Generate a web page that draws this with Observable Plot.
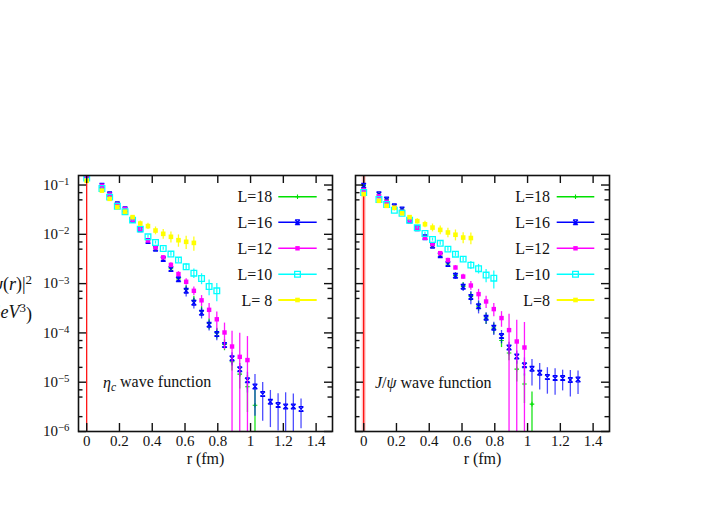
<!DOCTYPE html>
<html><head><meta charset="utf-8">
<script src="https://cdn.jsdelivr.net/npm/d3@7"></script>
<script src="https://cdn.jsdelivr.net/npm/@observablehq/plot@0.6"></script>
<style>
body{margin:0;background:#fff;}
#wrap{position:relative;width:704px;height:522px;overflow:hidden;background:#fff;}
#wrap svg{position:absolute;top:0;}
</style></head>
<body><div id="wrap"></div>
<script>
// r values (fm) of the plotted points
const R = [0, 0.093, 0.140, 0.187, 0.234, 0.280, 0.327, 0.374, 0.420, 0.467, 0.514, 0.560, 0.607, 0.654,
  0.701, 0.747, 0.794, 0.841, 0.887, 0.934, 0.981, 1.027, 1.074, 1.121, 1.168, 1.214, 1.261, 1.308];

const xTicks = [0, 0.2, 0.4, 0.6, 0.8, 1, 1.2, 1.4];
const yTicks = [1e-6, 1e-5, 1e-4, 1e-3, 1e-2, 1e-1];
const yMinorLeft = [2e-6,5e-6,7e-6,2e-5,5e-5,7e-5,2e-4,5e-4,7e-4,2e-3,5e-3,7e-3,2e-2,5e-2,7e-2];
const yMinorRight = [2e-6,5e-6,8e-6,2e-5,5e-5,8e-5,2e-4,5e-4,8e-4,2e-3,5e-3,8e-3,2e-2,5e-2,8e-2];

const seriesNames = ["L=18", "L=16", "L=12", "L=10", "L=8"];
const legendLeft = ["L=18", "L=16", "L=12", "L=10", "L= 8"];
const legendRight = ["L=18", "L=16", "L=12", "L=10", "L=8"];

// eta_c wave function |psi(r)|^2 (GeV^3) and relative errors
const etaL18 = [0.157, 0.0964, 0.0648, 0.0404, 0.0322, 0.0197, 0.0127, 0.0074, 0.0051, 0.0032, 0.002, 0.00125, 0.00077, 0.00046, 0.00028, 0.000155, 0.0001, 0.000058, 0.000026, 0.0000146, 0.0000081, 0.0000034];
const etaL18Err = [0.05,0.03,0.03,0.03,0.04,0.05,0.06,0.07,0.08,0.1,0.12,0.14,0.18,0.2,0.22,0.25,0.25,0.25,0.35,0.5,0.7,1.05];
const etaL16 = [0.158, 0.0964, 0.0648, 0.0406, 0.0321, 0.0197, 0.0126, 0.00728, 0.00508, 0.00314, 0.00197, 0.00123, 0.000714, 0.000408, 0.000256, 0.000146, 0.0000946, 0.0000566, 0.0000305, 0.0000184, 0.000011, 0.00000818, 0.00000574, 0.000004, 0.00000343, 0.00000321, 0.00000321, 0.00000285];
const etaL16Err = [0.05,0.03,0.03,0.03,0.04,0.05,0.06,0.07,0.08,0.1,0.12,0.14,0.25,0.25,0.25,0.25,0.27,0.1,0.3,0.3,0.45,0.75,0.72,0.7,0.7,0.9,0.8,0.6];
const etaL12 = [0.155, 0.0964, 0.064, 0.040, 0.0325, 0.0197, 0.0128, 0.00748, 0.0054, 0.00341, 0.0024, 0.00156, 0.00109, 0.000714, 0.000458, 0.000294, 0.000189, 0.000102, 0.000053, 0.0000327, 0.0000281];
const etaL12Err = [0.05,0.03,0.03,0.03,0.04,0.05,0.05,0.06,0.07,0.08,0.1,0.12,0.15,0.2,0.25,0.35,0.4,0.55,1.05,2.0,2.0];
const etaL10 = [0.138, 0.085, 0.0568, 0.0372, 0.0286, 0.0194, 0.01275, 0.0089, 0.00682, 0.00515, 0.00397, 0.0030, 0.00219, 0.00163, 0.00127, 0.000873, 0.000714];
const etaL10Err = [0.05,0.03,0.03,0.03,0.04,0.05,0.05,0.06,0.07,0.08,0.1,0.12,0.15,0.22,0.25,0.35,0.4];
const etaL8 = [0.122, 0.077, 0.0525, 0.0356, 0.0286, 0.0223, 0.01656, 0.01466, 0.01194, 0.01023, 0.0089, 0.0076, 0.00705, 0.0067];
const etaL8Err = [0.05,0.03,0.03,0.04,0.05,0.08,0.12,0.15,0.18,0.22,0.25,0.28,0.3,0.32];

// J/psi wave function
const jpsiL18 = [0.097, 0.065, 0.0508, 0.0372, 0.032, 0.0191, 0.0134, 0.0088, 0.0059, 0.0038, 0.0025, 0.00145, 0.00088, 0.00055, 0.00035, 0.0002, 0.000125, 0.00007, 0.000039, 0.0000184, 0.0000092, 0.0000036];
const jpsiL18Err = [0.05,0.03,0.03,0.03,0.04,0.05,0.06,0.07,0.08,0.1,0.12,0.14,0.18,0.2,0.22,0.25,0.25,0.28,0.3,0.45,0.6,0.75];
const jpsiL16 = [0.0964, 0.0648, 0.0506, 0.037, 0.0318, 0.019, 0.0133, 0.00877, 0.00585, 0.00378, 0.00249, 0.00144, 0.000861, 0.000535, 0.000347, 0.000202, 0.000127, 0.0000861, 0.0000506, 0.0000332, 0.0000222, 0.0000187, 0.0000155, 0.0000127, 0.0000121, 0.0000121, 0.0000111, 0.0000113];
const jpsiL16Err = [0.05,0.03,0.03,0.03,0.04,0.05,0.06,0.07,0.08,0.1,0.12,0.15,0.2,0.3,0.3,0.27,0.3,0.3,0.28,0.3,0.4,0.55,0.55,0.55,0.55,0.45,0.55,0.5];
const jpsiL12 = [0.0788, 0.059, 0.0456, 0.0345, 0.0286, 0.019, 0.0134, 0.0085, 0.00633, 0.00415, 0.0030, 0.00212, 0.00139, 0.000915, 0.000612, 0.000434, 0.000304, 0.0002, 0.000114, 0.000067, 0.0000506];
const jpsiL12Err = [0.05,0.03,0.03,0.03,0.04,0.05,0.05,0.06,0.07,0.08,0.09,0.1,0.12,0.2,0.25,0.28,0.3,0.35,1.1,1.7,2.2];
const jpsiL10 = [0.0705, 0.0508, 0.0402, 0.0307, 0.0267, 0.0192, 0.01355, 0.01038, 0.00785, 0.00656, 0.00501, 0.00396, 0.00314, 0.00237, 0.00201, 0.00149, 0.00129];
const jpsiL10Err = [0.04,0.03,0.03,0.03,0.04,0.05,0.05,0.06,0.07,0.08,0.09,0.1,0.12,0.18,0.22,0.3,0.4];
const jpsiL8 = [0.0653, 0.0478, 0.0378, 0.0345, 0.0267, 0.0223, 0.0185, 0.016, 0.0137, 0.0123, 0.0109, 0.0098, 0.0086, 0.0084];
const jpsiL8Err = [0.04,0.03,0.03,0.04,0.05,0.08,0.12,0.15,0.18,0.2,0.22,0.25,0.25,0.27];

const colors = ["#00e000", "#0000ff", "#ff00ff", "#00ffff", "#ffff00"];

const hourglass = {draw(ctx, size){ const s = Math.sqrt(size/Math.PI);
  ctx.moveTo(-s,-s); ctx.lineTo(s,s); ctx.moveTo(s,-s); ctx.lineTo(-s,s);
  ctx.moveTo(-s,-s); ctx.lineTo(s,-s); ctx.moveTo(-s,s); ctx.lineTo(s,s); }};

const styles = [
  {symbol: "plus", r: 1.6, fill: "none", stroke: colors[0], sw: 1.1},
  {symbol: hourglass, r: 2.4, fill: "none", stroke: colors[1], sw: 1.2},
  {symbol: "square", r: 2.5, fill: colors[2], stroke: "none", sw: 0},
  {symbol: "square", r: 3.2, fill: "none", stroke: colors[3], sw: 1.3},
  {symbol: "square", r: 2.6, fill: colors[4], stroke: "none", sw: 0}
];

function rows(vals, errs) {
  return vals.map((v, i) => {
    const e = v * errs[i];
    return {r: R[i], v, lo: v - e > 0 ? v - e : 1e-9, hi: v + e};
  });
}

const FT = 175, FB = 431, H = 480, FW = 254;
const fontFam = "'Liberation Serif', 'DejaVu Serif', serif";

function panel({data, left, width, ml, mr, yLabels, band}) {
  const marks = [];
  if (band) marks.push(Plot.ruleX([0], {x: d => d, stroke: "#ff8080", strokeOpacity: 0.45, strokeWidth: 4}));
  marks.push(Plot.ruleX([0], {x: d => d, stroke: "#ff0000", strokeWidth: 1.2}));
  data.forEach((d, k) => {
    const st = styles[k];
    marks.push(Plot.ruleX(d, {x: "r", y1: "lo", y2: "hi", stroke: colors[k], strokeWidth: 1.3,
      strokeOpacity: k === 1 ? 0.7 : 0.9, clip: true}));
    marks.push(Plot.dot(d, {x: "r", y: "v", symbol: st.symbol, r: st.r, fill: st.fill,
      stroke: st.stroke, strokeWidth: st.sw, clip: true}));
  });
  marks.push(Plot.frame({stroke: "#111", strokeWidth: 1.6}));
  const tk = {stroke: "#111", strokeWidth: 1.4};
  marks.push(Plot.tickX(xTicks, {x: d => d, insetTop: (FB - FT) - 8, ...tk}));
  marks.push(Plot.tickX(xTicks, {x: d => d, insetBottom: (FB - FT) - 8, ...tk}));
  marks.push(Plot.tickY(yTicks, {y: d => d, insetRight: FW - 8, ...tk}));
  marks.push(Plot.tickY(yTicks, {y: d => d, insetLeft: FW - 8, ...tk}));
  marks.push(Plot.tickY(yMinorLeft, {y: d => d, insetRight: FW - 4.5, ...tk}));
  marks.push(Plot.tickY(yMinorRight, {y: d => d, insetLeft: FW - 4.5, ...tk}));
  marks.push(Plot.text(xTicks, {x: d => d, frameAnchor: "bottom", dy: 14, text: d => String(d), fontSize: 15, fill: "#111"}));
  marks.push(Plot.text(["r (fm)"], {frameAnchor: "bottom", dy: 32, text: d => d, fontSize: 16, fill: "#111"}));
  if (yLabels) marks.push(Plot.text(yTicks, {y: d => d, frameAnchor: "left", dx: -9, textAnchor: "end",
    text: d => "10^" + Math.round(Math.log10(d)), fontSize: 15, fill: "#111"}));
  const svg = Plot.plot({
    width, height: H, marginLeft: ml, marginRight: mr, marginTop: FT, marginBottom: H - FB,
    x: {domain: [-0.05, 1.5], axis: null},
    y: {type: "log", domain: [1e-6, 0.156], axis: null},
    style: {fontFamily: fontFam, background: "transparent"},
    marks
  });
  svg.style.left = left + "px";
  svg.setAttribute("font-family", fontFam);
  // superscript exponents
  svg.querySelectorAll("text").forEach(t => {
    const m = t.textContent.match(/^10\^(-?\d+)$/);
    if (!m) return;
    t.textContent = "";
    const a = document.createElementNS("http://www.w3.org/2000/svg", "tspan");
    a.textContent = "10";
    const b = document.createElementNS("http://www.w3.org/2000/svg", "tspan");
    b.textContent = m[1].replace("-", "\u2212");
    b.setAttribute("dy", "-0.45em");
    b.setAttribute("font-size", "0.72em");
    t.appendChild(a); t.appendChild(b);
  });
  return svg;
}

function addLegend(svg, labels, textX, x1, x2) {
  const g = d3.select(svg).append("g").attr("font-family", fontFam).attr("font-size", 16);
  const ys = [196.7, 222.3, 248.3, 274.3, 300];
  labels.forEach((lab, k) => {
    const y = ys[k], st = styles[k];
    g.append("text").attr("x", textX).attr("y", y).attr("dy", "0.35em").attr("text-anchor", "end")
      .attr("fill", "#111").text(lab);
    g.append("line").attr("x1", x1).attr("x2", x2).attr("y1", y).attr("y2", y)
      .attr("stroke", colors[k]).attr("stroke-width", k === 4 ? 2 : 1.5);
    const sym = st.symbol === "plus" ? d3.symbolPlus : (typeof st.symbol === "string" ? d3.symbolSquare : st.symbol);
    g.append("path").attr("transform", `translate(${(x1 + x2) / 2},${y})`)
      .attr("d", d3.symbol(sym, Math.PI * st.r * st.r)())
      .attr("fill", st.fill === "none" ? "none" : st.fill)
      .attr("stroke", st.stroke).attr("stroke-width", st.sw);
  });
}

const wrap = document.getElementById("wrap");
const etaData = [rows(etaL18, etaL18Err), rows(etaL16, etaL16Err), rows(etaL12, etaL12Err), rows(etaL10, etaL10Err), rows(etaL8, etaL8Err)];
const jpsiData = [rows(jpsiL18, jpsiL18Err), rows(jpsiL16, jpsiL16Err), rows(jpsiL12, jpsiL12Err), rows(jpsiL10, jpsiL10Err), rows(jpsiL8, jpsiL8Err)];

const svgL = panel({data: etaData, left: 0, width: 345, ml: 78, mr: 13, yLabels: true, band: false});
const svgR = panel({data: jpsiData, left: 345, width: 359, ml: 10, mr: 95, yLabels: false, band: true});
wrap.appendChild(svgL);
wrap.appendChild(svgR);

addLegend(svgL, legendLeft, 272.3, 278.3, 316.7);
addLegend(svgR, legendRight, 205, 211.7, 249.3);

// annotations
function annot(svg, x, y, parts) {
  const t = d3.select(svg).append("text").attr("x", x).attr("y", y).attr("text-anchor", "start")
    .attr("font-family", fontFam).attr("font-size", 16).attr("fill", "#111");
  parts.forEach(p => {
    const s = t.append("tspan").text(p.t);
    if (p.i) s.attr("font-style", "italic");
    if (p.dy) s.attr("dy", p.dy);
    if (p.fs) s.attr("font-size", p.fs);
  });
}
annot(svgL, 103, 388, [{t: "\u03b7", i: 1}, {t: "c", i: 1, dy: "0.3em", fs: "0.72em"}, {t: " wave function", dy: "-0.3em"}]);
annot(svgR, 30, 388, [{t: "J", i: 1}, {t: "/"}, {t: "\u03c8", i: 1}, {t: " wave function"}]);

// y-axis label (partly cut off at the page edge, as in the original)
const yl = d3.select(svgL).append("g").attr("font-family", fontFam).attr("font-size", 18).attr("fill", "#111");
const t1 = yl.append("text").attr("x", 32).attr("y", 290).attr("text-anchor", "end");
t1.append("tspan").text("|");
t1.append("tspan").text("\u03c8").attr("font-style", "italic");
t1.append("tspan").text("(");
t1.append("tspan").text("r").attr("font-style", "italic");
t1.append("tspan").text(")|");
t1.append("tspan").text("2").attr("dy", "-0.45em").attr("font-size", "0.72em");
const t2 = yl.append("text").attr("x", 32).attr("y", 318).attr("text-anchor", "end");
t2.append("tspan").text("(");
t2.append("tspan").text("GeV").attr("font-style", "italic");
t2.append("tspan").text("3").attr("dy", "-0.45em").attr("font-size", "0.72em");
t2.append("tspan").text(")").attr("dy", "0.45em");
</script>
</body></html>
